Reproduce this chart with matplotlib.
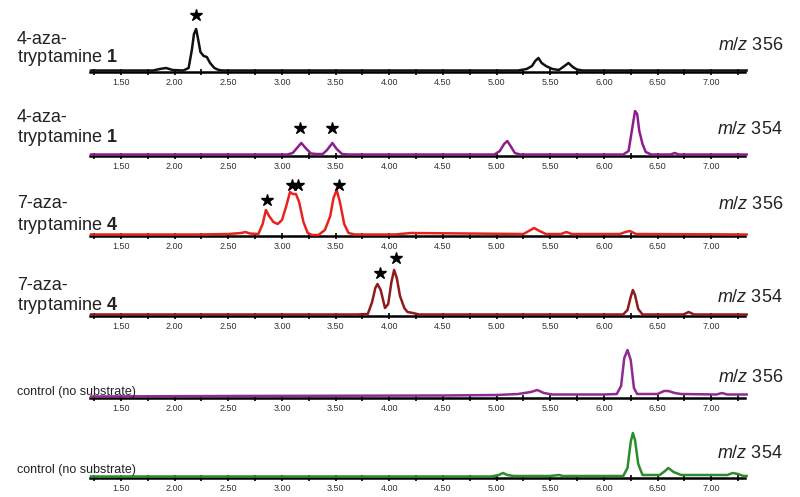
import matplotlib
matplotlib.use("Agg")
import matplotlib.pyplot as plt
from matplotlib.ticker import MultipleLocator, FuncFormatter

plt.rcParams['font.family'] = ['Liberation Sans', 'DejaVu Sans']
plt.rcParams['mathtext.fontset'] = 'custom'
plt.rcParams['mathtext.rm'] = 'Liberation Sans'
plt.rcParams['mathtext.it'] = 'Liberation Sans:italic'
plt.rcParams['mathtext.bf'] = 'Liberation Sans:bold'

# retention time (min) and intensity (arbitrary units)
t1 = [1.22, 1.80, 1.86, 1.92, 1.98, 2.08, 2.13, 2.16, 2.18, 2.20, 2.22, 2.24, 2.27, 2.30,
      2.33, 2.37, 2.41, 2.45, 5.20, 5.28, 5.33, 5.36, 5.39, 5.42, 5.46, 5.52, 5.58, 5.62,
      5.67, 5.71, 5.75, 5.80, 7.33]
y1 = [1.5, 1.5, 3, 4, 2, 1.5, 4, 22, 38, 43, 32, 20, 16, 15,
      9, 4, 2, 1.5, 1.5, 3, 6, 11, 14, 9, 6, 3, 2, 5,
      9, 5, 2.5, 1.5, 1.5]

t2 = [1.22, 3.05, 3.10, 3.14, 3.18, 3.22, 3.27, 3.32, 3.38, 3.42, 3.47, 3.51, 3.56, 3.62,
      4.98, 5.03, 5.07, 5.10, 5.13, 5.17, 5.22, 6.18, 6.23, 6.26, 6.29, 6.31, 6.33, 6.36,
      6.39, 6.44, 6.62, 6.66, 6.70, 7.33]
y2 = [1.5, 1.5, 3, 8, 13, 8, 2.5, 2, 2, 6, 13, 7, 2, 1.5,
      1.5, 5, 12, 15, 10, 3, 1.5, 1.5, 5, 25, 45, 42, 25, 12,
      4, 1.5, 1.5, 3, 1.5, 1.5]

t3 = [1.22, 2.20, 2.50, 2.62, 2.66, 2.70, 2.78, 2.82, 2.85, 2.88, 2.92, 2.96, 3.00, 3.04,
      3.075, 3.10, 3.13, 3.16, 3.20, 3.24, 3.28, 3.34, 3.40, 3.45, 3.48, 3.51, 3.54, 3.58,
      3.62, 3.68, 4.05, 4.20, 5.25, 5.30, 5.35, 5.40, 5.46, 5.60, 5.65, 5.70, 6.15, 6.20,
      6.24, 6.30, 7.33]
y3 = [1.5, 1.5, 2, 3, 4, 2.5, 2, 12, 26, 20, 14, 12, 16, 30,
      44, 42, 42, 34, 14, 3, 1, 1, 6, 20, 38, 46, 34, 12,
      3, 1.5, 1.5, 3, 2, 5, 8, 5, 2, 2, 4, 2, 2, 4,
      5, 2, 1.5]

t4 = [1.22, 3.70, 3.80, 3.84, 3.87, 3.89, 3.92, 3.96, 3.99, 4.02, 4.045, 4.07, 4.10, 4.14,
      4.17, 4.22, 4.28, 6.18, 6.22, 6.25, 6.27, 6.29, 6.32, 6.36, 6.74, 6.79, 6.84, 7.33]
y4 = [1.5, 1.5, 2, 14, 28, 32, 26, 8, 12, 34, 46, 38, 20, 8,
      4, 3, 1.5, 1.5, 6, 19, 26, 21, 7, 1.5, 1.5, 4, 1.5, 1.5]

t5 = [1.22, 2.50, 4.50, 5.00, 5.20, 5.32, 5.38, 5.44, 5.52, 6.00, 6.12, 6.16, 6.19, 6.22,
      6.25, 6.28, 6.31, 6.36, 6.50, 6.56, 6.60, 6.66, 6.72, 7.05, 7.10, 7.15, 7.33]
y5 = [1.5, 2, 2.5, 3, 4, 6, 8, 5, 3.5, 3.5, 4, 12, 40, 48,
      38, 10, 4, 4, 4, 7, 7, 5, 4, 3.5, 5, 3.5, 3.5]

t6 = [1.22, 4.95, 5.02, 5.06, 5.10, 5.16, 5.50, 5.58, 5.62, 6.18, 6.22, 6.25, 6.27, 6.29,
      6.32, 6.36, 6.52, 6.57, 6.60, 6.65, 6.72, 6.86, 7.15, 7.20, 7.25, 7.30, 7.33]
y6 = [1.5, 1.5, 3, 5, 3, 2, 2, 3, 2, 2, 10, 36, 45, 38,
      14, 3, 3, 7, 10, 6, 3, 3, 3, 5, 4, 2, 2]

# asterisks (time, height)
stars1 = [(2.20, 57)]
stars2 = [(3.17, 28), (3.47, 28)]
stars3 = [(2.86, 36), (3.09, 51), (3.15, 51), (3.53, 51)]
stars4 = [(3.91, 43), (4.06, 58)]
stars5 = []
stars6 = []

labels = [["4-aza-", r"tryptamine $\mathbf{1}$"],
          ["4-aza-", r"tryptamine $\mathbf{1}$"],
          ["7-aza-", r"tryptamine $\mathbf{4}$"],
          ["7-aza-", r"tryptamine $\mathbf{4}$"],
          ["control (no substrate)"],
          ["control (no substrate)"]]
mz = ["356", "354", "356", "354", "356", "354"]

traces = [(t1, y1), (t2, y2), (t3, y3), (t4, y4), (t5, y5), (t6, y6)]
stars = [stars1, stars2, stars3, stars4, stars5, stars6]
colors = ["#111111", "#8c1e8c", "#e8231e", "#8e1b1e", "#8e2a90", "#2a8c2a"]

# layout in pixels
baselines = [72, 156, 236, 316, 398, 478]
label_y = [[39, 58], [118, 138], [203, 225], [285, 305], [392], [470]]
mz_y = [45, 130, 205, 297, 377, 453]

W, H = 800, 497
fig = plt.figure(figsize=(8, 4.97), dpi=100)

for i in range(6):
    base = baselines[i]
    ax = fig.add_axes([90 / W, 1 - base / H, 655 / W, 62 / H])
    t, y = traces[i]
    ax.plot(t, y, color=colors[i], lw=1.8, zorder=5, clip_on=False)
    for st, sh in stars[i]:
        ax.plot(st, sh, marker='*', ms=9, color='black', clip_on=False, zorder=6)
    ax.set_xlim(1.211, 7.315)
    ax.set_ylim(0, 62)
    for s in ['top', 'left', 'right']:
        ax.spines[s].set_visible(False)
    ax.spines['bottom'].set_linewidth(1.8)
    ax.set_yticks([])
    ax.xaxis.set_major_locator(MultipleLocator(0.25))
    ax.xaxis.set_major_formatter(FuncFormatter(
        lambda v, p: "%.2f" % v if abs(v * 2 - round(v * 2)) < 1e-6 else ""))
    ax.tick_params(axis='x', direction='inout', length=4, width=1.2,
                   labelsize=6.5, labelcolor='#333333', pad=2)
    ax.patch.set_visible(False)

    # sample label on the left
    lines = labels[i]
    fs = 13 if len(lines) == 2 else 9
    for txt, ly in zip(lines, label_y[i]):
        fig.text(17 / W, 1 - ly / H, txt, fontsize=fs, va='center', ha='left',
                 color='#222222')
    fig.text(783 / W, 1 - mz_y[i] / H, r"$m/z$ " + mz[i], fontsize=13,
             va='center', ha='right', color='#222222')

fig.savefig("out.png", dpi=100)
plt.close(fig)
